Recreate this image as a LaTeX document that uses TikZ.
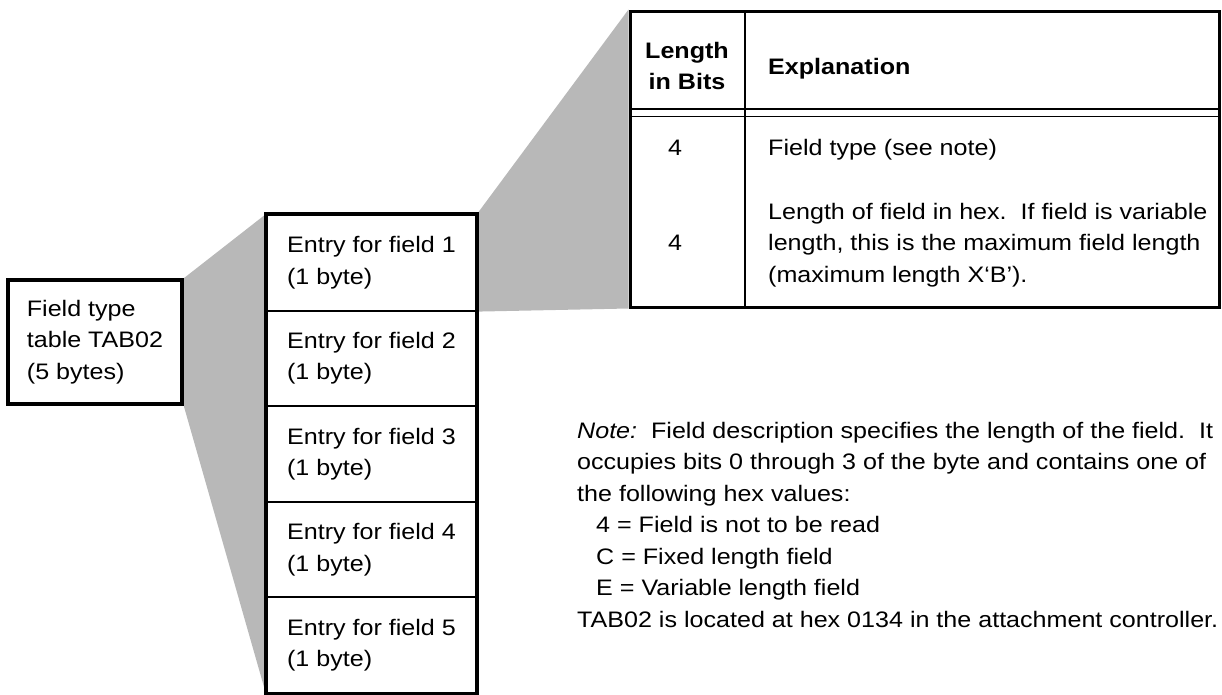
\documentclass[tikz,border=0pt]{standalone}
\usepackage{fontspec}
\setmainfont{Liberation Sans}[FakeStretch=1.12]
\usetikzlibrary{backgrounds}
\newcommand{\tfont}{\fontsize{22.4}{31.5}\selectfont}
\newcommand{\valindent}{\hspace*{19pt}}
\begin{document}
\begin{tikzpicture}[x=1pt,y=-1pt,
  every node/.style={font=\tfont, inner sep=0pt},
  heavybox/.style={draw, line width=3.5pt},
  entrybox/.style={draw, line width=2pt, minimum width=209pt, minimum height=95.6pt, align=left},
  halftone/.style={fill=black!28},
  thinrule/.style={line width=1.8pt},
  headrule/.style={line width=1.4pt},
  boldtext/.style={font=\tfont\bfseries},
]
\useasboundingbox (0,0) rectangle (1222,694);

% left box
\node[heavybox, minimum width=174pt, minimum height=124pt, align=left] (ftt) at (95,342)
  {Field type\\table TAB02\\(5 bytes)};

% stack of entries
\foreach \i/\yy in {1/262.8, 2/358.4, 3/454, 4/549.6, 5/645.2}
  \node[entrybox] (e\i) at (371.5,\yy) {Entry for field \i\\(1 byte)};
\draw[line width=3.5pt] (e1.north west) rectangle (e5.south east);

% table
\node[draw, line width=3pt, minimum width=589pt, minimum height=296pt] (tbl) at (924.5,159) {};
\draw[thinrule] (745,11) -- (745,307);
\draw[headrule] (630,109) -- (1219,109);
\draw[headrule] (630,116.5) -- (1219,116.5);

\node[boldtext, anchor=north, align=center] (hlen) at (687,42) {Length\\in Bits};
\node[boldtext, anchor=base west] (hexp) at (768,74) {Explanation};
\node[anchor=base] (b1) at (675,155) {4};
\node[anchor=base west] (x1) at (768,155) {Field type (see note)};
\node[anchor=base] (b2) at (675,250) {4};
\node[anchor=north west, align=left] (x2) at (768,203)
  {Length of field in hex.\ \ If field is variable\\length, this is the maximum field length\\(maximum length X`B').};

% note
\node[anchor=north west, align=left] (note) at (577,422)
  {\textit{Note:}\ \ Field description specifies the length of the field.\ \ It\\
   occupies bits 0 through 3 of the byte and contains one of\\
   the following hex values:\\
   \valindent 4 = Field is not to be read\\
   \valindent C = Fixed length field\\
   \valindent E = Variable length field\\
   TAB02 is located at hex 0134 in the attachment controller.};

% halftone fans
\begin{scope}[on background layer]
  \fill[halftone] (ftt.north east) -- (e1.north west) -- (e5.south west) -- (ftt.south east) -- cycle;
  \fill[halftone] (e1.north east) -- (tbl.north west) -- (tbl.south west) -- (e1.south east) -- cycle;
\end{scope}
\end{tikzpicture}
\end{document}
